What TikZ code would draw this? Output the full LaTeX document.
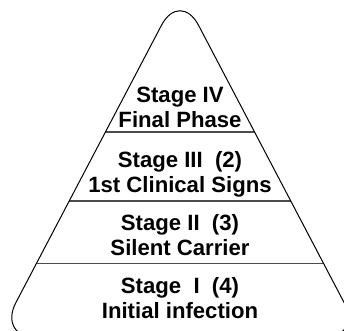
\documentclass[tikz,border=0pt]{standalone}
\usepackage{fontspec}
\setmainfont{Liberation Sans}
\begin{document}
\begin{tikzpicture}[x=0.75pt,y=-0.75pt,
  stage/.style={align=center,anchor=base,inner sep=0pt,font=\fontsize{16.6}{18.75}\selectfont\bfseries},
  divider/.style={draw=black!70,line width=1pt}]
\useasboundingbox (0,0) rectangle (344,331);
\begin{scope}
\clip[rounded corners=30pt] (180,-10) -- (362.7,338) -- (-2.7,338) -- cycle;
\draw[divider] (0,132) -- (344,132);
\draw[divider] (0,201) -- (344,201);
\draw[divider] (0,263.5) -- (344,263.5);
\end{scope}
\draw[black,line width=0.75pt,rounded corners=30pt] (180,-10) -- (362.7,338) -- (-2.7,338) -- cycle;
\node[stage] (s4) at (180,128) {Stage IV\\Final Phase};
\node[stage] (s3) at (180,193) {Stage III\ \ (2)\\1st Clinical Signs};
\node[stage] (s2) at (180,256) {Stage II\ \ (3)\\Silent Carrier};
\node[stage] (s1) at (180,319) {Stage\ \ I\ \ (4)\\Initial infection};
\end{tikzpicture}
\end{document}
